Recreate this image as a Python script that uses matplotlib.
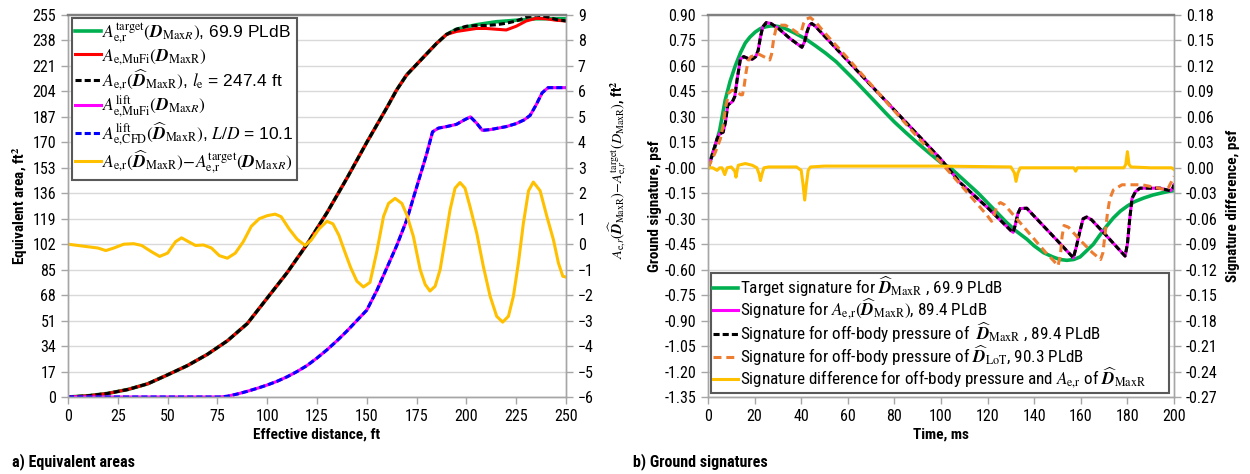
import numpy as np
import matplotlib
matplotlib.use("Agg")
import matplotlib.pyplot as plt
from matplotlib.ticker import FixedLocator, FormatStrFormatter

# ---------------- equivalent areas (left panel) ----------------
dist_area = [0, 10, 20, 30, 40, 50, 60, 70, 80, 90, 100, 110, 120, 130, 140, 150,
             160, 165, 170, 175, 180, 185, 190, 195, 200, 205, 210, 215, 220, 225,
             230, 235, 240, 245, 250]
area_target = [0, 0.8, 2.4, 5, 8.8, 14.8, 21, 28.5, 37.5, 49, 66, 83, 102, 123, 146, 170,
               193, 205, 215, 222, 229, 236, 242, 245.5, 247, 248.5, 249.5, 250.5, 251,
               251.5, 252, 252.5, 252.5, 252.5, 252.5]
area_mufi = [0, 0.8, 2.4, 5, 8.8, 14.8, 21, 28.5, 37.5, 49, 66, 83, 102, 123, 146, 170,
             193, 205, 215, 222, 229, 236, 242, 244, 245, 246, 246, 245.5, 245, 247.5,
             251, 252.8, 252.5, 251.5, 251]
area_recon = [0, 0.8, 2.4, 5, 8.8, 14.8, 21, 28.5, 37.5, 49, 66, 83, 102, 123, 146, 170,
              193, 205, 215, 222, 229, 236, 242, 245.5, 247.5, 248, 248, 248.5, 249.5, 251,
              253.5, 255, 254, 252, 251]

dist_lift = [0, 20, 40, 60, 76, 80, 85, 90, 95, 100, 105, 110, 115, 120, 125, 130, 135,
             140, 145, 150, 155, 160, 165, 170, 175, 180, 183, 186, 190, 195, 199, 202,
             205, 208, 212, 216, 220, 225, 229, 232, 235, 238, 241, 245, 250]
lift_mufi = [0, 0, 0, 0, 0, 0.5, 2, 3.8, 5.8, 8, 10.5, 13.5, 17, 21, 26, 31.5, 37.5, 44,
             51, 58, 71, 86, 101, 118, 140, 162, 177, 179.5, 180.5, 182, 185, 187, 183,
             178, 178.5, 179.5, 180.5, 182.5, 185, 188, 195, 203, 206.5, 206.5, 206.5]
lift_cfd = [0, 0, 0, 0, 0, 0.5, 2, 3.8, 5.8, 8, 10.5, 13.5, 17, 21, 26, 31.5, 37.5, 44,
            51, 58, 71, 86, 101, 118, 140, 162, 177, 179.5, 180.5, 182, 185, 187, 183,
            178, 178.5, 179.5, 180.5, 182.5, 185, 188, 195, 203, 206.5, 206.5, 206.5]

dist_diff = [0, 5, 10, 15, 19, 23, 28, 33, 37, 42, 46, 50, 54, 57, 60, 64, 68, 72, 76, 80,
             84, 88, 92, 96, 100, 104, 107, 111, 115, 119, 122, 126, 130, 133, 136, 138.5,
             141.8, 145, 148.3, 151.6, 155, 158.4, 160.9, 164.2, 167.6, 170.1, 173.4,
             176.8, 179.3, 181.7, 184.3, 186.8, 189.3, 191.8, 194.3, 196.8, 199.3, 201.8,
             205.2, 208.5, 211.9, 215.2, 218.2, 221.1, 223.6, 226.1, 228.6, 231.2, 233.6,
             237, 240.4, 243.7, 246.2, 248.4, 250]
area_diff = [0.0, -0.05, -0.1, -0.15, -0.25, -0.15, 0.0, 0.02, -0.05, -0.3, -0.48, -0.35,
             0.1, 0.25, 0.12, -0.05, -0.03, -0.15, -0.45, -0.55, -0.35, 0.1, 0.7, 1.0, 1.12,
             1.18, 1.08, 0.6, 0.2, -0.05, 0.15, 0.6, 0.9, 0.8, 0.35, -0.2, -0.9, -1.45,
             -1.68, -1.5, -0.3, 1.09, 1.6, 1.8, 1.6, 1.15, 0.3, -1.0, -1.58, -1.84, -1.65,
             -1.0, 0.17, 1.35, 2.2, 2.42, 2.2, 1.48, 0.43, -0.87, -2.04, -2.83, -3.06, -2.83,
             -2.04, -0.74, 0.82, 2.1, 2.44, 2.1, 1.09, 0.17, -0.74, -1.26, -1.29]

# ---------------- ground signatures (right panel) ----------------
t_target = [0, 3.1, 5, 7.4, 9.5, 11.7, 14, 16, 18, 20.3, 22.5, 24.6, 27, 28.9, 31, 33.2,
            37, 41.8, 46, 50.4, 55, 59, 63, 67.5, 72, 76.1, 80, 84.7, 90, 94.7, 100, 104,
            108, 112, 116, 122, 128, 132, 136.8, 140, 144, 148, 151, 154, 157, 159.7, 162,
            165.4, 168, 171, 174, 177, 180, 183, 187, 191, 195, 198, 200]
p_target = [0, 0.13, 0.22, 0.40, 0.51, 0.60, 0.68, 0.735, 0.77, 0.80, 0.82, 0.83, 0.836,
            0.835, 0.83, 0.82, 0.795, 0.76, 0.72, 0.676, 0.625, 0.57, 0.515, 0.45, 0.385,
            0.325, 0.27, 0.21, 0.145, 0.09, 0.03, 0.0, -0.05, -0.10, -0.15, -0.235, -0.32,
            -0.37, -0.42, -0.46, -0.50, -0.525, -0.54, -0.545, -0.54, -0.525, -0.495,
            -0.45, -0.40, -0.345, -0.295, -0.255, -0.225, -0.20, -0.178, -0.16, -0.147,
            -0.138, -0.135]

t_ae = [0, 1.7, 3.9, 5.0, 6.5, 7.5, 8.5, 10.5, 11.5, 12.5, 13.9, 15.3, 17, 19, 20.5, 21.5,
        22.5, 23.5, 25, 27, 30.3, 35.3, 40.3, 41.5, 42.5, 43.5, 44.5, 46, 50.4, 60, 70, 80,
        90, 100, 108, 120, 130, 131, 132, 133, 134, 136.8, 140, 150, 156.8, 158, 159.5, 161,
        162.5, 164.6, 170, 179, 180, 181, 182, 183.5, 185.4, 194, 198.3, 199.5, 200]
p_ae = [0, 0.07, 0.17, 0.20, 0.21, 0.27, 0.37, 0.39, 0.42, 0.52, 0.64, 0.655, 0.645, 0.64,
        0.655, 0.69, 0.77, 0.83, 0.855, 0.85, 0.82, 0.76, 0.71, 0.745, 0.80, 0.84, 0.85,
        0.835, 0.77, 0.63, 0.485, 0.34, 0.195, 0.05, -0.085, -0.235, -0.37, -0.38, -0.33,
        -0.27, -0.24, -0.238, -0.285, -0.43, -0.53, -0.47, -0.38, -0.30, -0.29, -0.306,
        -0.385, -0.52, -0.45, -0.30, -0.18, -0.14, -0.12, -0.12, -0.135, -0.12, -0.10]
p_offbody = list(p_ae)

t_lot = [0, 3.1, 5.3, 6.5, 7.4, 8.9, 10.3, 12.4, 14, 14.8, 15.5, 16.3, 17.2, 18.5, 21.7,
         24.6, 26.5, 27.3, 28.2, 29.2, 30.5, 33.2, 36.8, 38.9, 40, 41, 42, 43.9, 46.1, 50.4,
         60, 70, 80, 90, 100, 110, 116, 119.6, 121.7, 122.8, 124, 125.5, 127.3, 135, 140,
         145, 148.5, 150.2, 151.2, 152, 152.8, 154.7, 160, 165, 168.5, 169.5, 170.5, 171.5,
         172.5, 174, 177.7, 186.3, 193.4, 196.3, 197.5, 199, 200]
p_lot = [0, 0.09, 0.17, 0.25, 0.345, 0.44, 0.457, 0.45, 0.43, 0.43, 0.48, 0.56, 0.63, 0.655,
         0.67, 0.65, 0.635, 0.67, 0.76, 0.82, 0.84, 0.84, 0.81, 0.79, 0.80, 0.85, 0.875,
         0.885, 0.86, 0.79, 0.645, 0.49, 0.335, 0.18, 0.03, -0.125, -0.22, -0.277, -0.315,
         -0.28, -0.22, -0.205, -0.218, -0.34, -0.42, -0.50, -0.55, -0.578, -0.52, -0.40,
         -0.34, -0.35, -0.43, -0.50, -0.54, -0.50, -0.38, -0.26, -0.18, -0.13, -0.10, -0.10,
         -0.12, -0.13, -0.12, -0.08, -0.05]

t_diff = [0, 2, 3.9, 5, 6, 7.2, 8.2, 10, 11.5, 12, 12.6, 13, 16, 19, 21, 22, 22.5, 23.2, 24,
          26, 30, 38, 40, 40.8, 41.5, 42.2, 43, 44, 50, 100, 130, 131.5, 132.2, 133, 134,
          157, 157.8, 158.5, 178.5, 179.3, 180, 180.7, 181.5, 190, 199, 200]
sig_diff = [0, 0, -0.003, 0.0, 0.0, -0.008, 0.0, 0.001, -0.004, -0.011, -0.002, 0.003,
            0.005, 0.003, 0.0, -0.008, -0.015, -0.007, 0.0, 0.001, 0.001, 0.001, -0.003,
            -0.02, -0.038, -0.02, -0.003, 0.001, 0.002, 0.002, 0.001, -0.006, -0.016,
            -0.006, 0.0, 0.0, -0.004, 0.0, 0.0, 0.004, 0.019, 0.004, 0.001, 0.0, 0.0, -0.002]

# ---------------- styling ----------------
COND = ["Roboto Condensed", "DejaVu Sans"]
WIDE = ["Liberation Sans", "DejaVu Sans"]
plt.rcParams["font.family"] = COND
plt.rcParams["mathtext.fontset"] = "stix"

GREEN = "#00B050"
RED = "#FF0000"
MAGENTA = "#FF00FF"
BLUE = "#0000FF"
GOLD = "#FFC000"
ORANGE = "#ED7D31"
GRID = "#D9D9D9"
SPINE = "#A6A6A6"
TICK_FS = 11.5
LABEL_FS = 11
LW = 2.2

fig = plt.figure(figsize=(12.5, 4.74), dpi=100)
W, H = 1250, 474
axA = fig.add_axes([68 / W, 1 - 397 / H, 498 / W, 382 / H])
axB = fig.add_axes([708 / W, 1 - 397 / H, 466 / W, 382 / H])


def frame(ax):
    for side in ("left", "bottom", "right"):
        ax.spines[side].set_color(SPINE)
        ax.spines[side].set_linewidth(1.0)
    ax.spines["top"].set_color("#808080")
    ax.spines["top"].set_linewidth(1.6)
    ax.tick_params(axis="both", which="both", direction="out", length=5,
                   width=1.0, color=SPINE, labelsize=TICK_FS, labelcolor="black")


# ----- left panel -----
axA.plot(dist_area, area_target, color=GREEN, lw=LW + 0.4)
axA.plot(dist_area, area_mufi, color=RED, lw=LW)
axA.plot(dist_area, area_recon, color="black", lw=LW, dashes=(2, 1))
axA.plot(dist_lift, lift_mufi, color=MAGENTA, lw=LW)
axA.plot(dist_lift, lift_cfd, color=BLUE, lw=LW, dashes=(2, 1))
axA.set_xlim(0, 250)
axA.set_ylim(0, 255)
axA.xaxis.set_major_locator(FixedLocator(np.arange(0, 251, 25)))
axA.yaxis.set_major_locator(FixedLocator(np.arange(0, 256, 17)))
axA.yaxis.grid(True, color=GRID, lw=1.0)
axA.set_axisbelow(True)
frame(axA)
axA.set_xlabel("Effective distance, ft", fontsize=LABEL_FS, fontweight="bold", labelpad=3)
axA.set_ylabel("Equivalent area, ft$^\\mathbf{2}$", fontsize=LABEL_FS, fontweight="bold", labelpad=2)

axA2 = axA.twinx()
axA2.plot(dist_diff, area_diff, color=GOLD, lw=LW)
axA2.set_ylim(-6, 9)
axA2.yaxis.set_major_locator(FixedLocator(np.arange(-6, 10, 1)))
frame(axA2)
axA2.set_ylabel(r"$A_{\mathrm{e{,}}r}(\widehat{\mathbfit{D}}_{\mathrm{MaxR}})"
                r"\!-\!A_{\mathrm{e{,}}r}^{\mathrm{target}}(D_{\mathrm{MaxR}})$, ft$^\mathbf{2}$",
                fontsize=10.3, fontweight="bold")
axA2.yaxis.set_label_coords((606 - 68) / 498, 0.5 + 36 / 382)

labelsA = [
    r"$A_{\mathrm{e{,}r}}^{\mathrm{target}}({\mathbfit{D}}_{\mathrm{Max}R})$, 69.9 PLdB",
    r"$A_{\mathrm{e{,}MuFi}}({\mathbfit{D}}_{\mathrm{MaxR}})$",
    r"$A_{\mathrm{e{,}r}}({\widehat{\mathbfit{D}}}_{\mathrm{MaxR}})$, $l_{\mathrm{e}}$ = 247.4 ft",
    r"$A_{\mathrm{e{,}MuFi}}^{\mathrm{lift}}({\mathbfit{D}}_{\mathrm{Max}R})$",
    r"$A_{\mathrm{e{,}CFD}}^{\mathrm{lift}}({\widehat{\mathbfit{D}}}_{\mathrm{MaxR}})$, $L/D$ = 10.1",
    r"$A_{\mathrm{e{,}r}}({\widehat{\mathbfit{D}}}_{\mathrm{MaxR}})\!-\!A_{\mathrm{e{,}r}}^{\mathrm{target}}({\mathbfit{D}}_{\mathrm{Max}R})$",
]
handlesA = axA.get_lines() + axA2.get_lines()
legA = axA2.legend(handlesA, labelsA, loc="upper left", bbox_to_anchor=(0.008, 0.992),
                   borderaxespad=0, fancybox=False, framealpha=1, edgecolor="#595959",
                   handlelength=1.45, handletextpad=0.1, labelspacing=0.05,
                   borderpad=0.2, prop={"family": WIDE, "size": 12.5})
legA.get_frame().set_linewidth(1.5)

# ----- right panel -----
axB.plot(t_target, p_target, color=GREEN, lw=LW + 0.4)
axB.plot(t_ae, p_ae, color=MAGENTA, lw=LW)
axB.plot(t_ae, p_offbody, color="black", lw=LW, dashes=(2, 1))
axB.plot(t_lot, p_lot, color=ORANGE, lw=LW, dashes=(2.6, 1.6))
axB.set_xlim(0, 200)
axB.set_ylim(-1.35, 0.90)
axB.xaxis.set_major_locator(FixedLocator(np.arange(0, 201, 20)))
axB.yaxis.set_major_locator(FixedLocator(np.round(np.arange(-1.35, 0.91, 0.15), 2)))
axB.yaxis.set_major_formatter(FormatStrFormatter("%.2f"))
axB.yaxis.grid(True, color=GRID, lw=1.0)
axB.set_axisbelow(True)
frame(axB)
axB.set_xlabel("Time, ms", fontsize=LABEL_FS, fontweight="bold", labelpad=3)
axB.set_ylabel("Ground signature, psf", fontsize=LABEL_FS, fontweight="bold", labelpad=2)

axB2 = axB.twinx()
axB2.plot(t_diff, sig_diff, color=GOLD, lw=LW)
axB2.set_ylim(-0.27, 0.18)
axB2.yaxis.set_major_locator(FixedLocator(np.round(np.arange(-0.27, 0.181, 0.03), 2)))
axB2.yaxis.set_major_formatter(FormatStrFormatter("%.2f"))
frame(axB2)
axB2.set_ylabel("Signature difference, psf", fontsize=LABEL_FS, fontweight="bold", labelpad=6)

labelsB = [
    r"Target signature for ${\widehat{\mathbfit{D}}}_{\mathrm{MaxR}}$ , 69.9 PLdB",
    r"Signature for $A_{\mathrm{e{,}r}}({\widehat{\mathbfit{D}}}_{\mathrm{MaxR}})$, 89.4 PLdB",
    r"Signature for off-body pressure of  ${\widehat{\mathbfit{D}}}_{\mathrm{MaxR}}$ , 89.4 PLdB",
    r"Signature for off-body pressure of ${\widehat{\mathbfit{D}}}_{\mathrm{LoT}}$, 90.3 PLdB",
    r"Signature difference for off-body pressure and $\mathit{A}_{\mathrm{e{,}r}}$ of ${\widehat{\mathbfit{D}}}_{\mathrm{MaxR}}$",
]
handlesB = axB.get_lines() + axB2.get_lines()
legB = axB2.legend(handlesB, labelsB, loc="lower left", bbox_to_anchor=(0.006, 0.01, 0.983, 0.3),
                   mode="expand", borderaxespad=0, fancybox=False, framealpha=1,
                   edgecolor="#595959", handlelength=1.5, handletextpad=0.1,
                   labelspacing=-0.08, borderpad=0.1,
                   prop={"family": COND, "size": 12.3})
legB.get_frame().set_linewidth(1.5)

fig.text(12 / W, 1 - 462 / H, "a) Equivalent areas", fontsize=11.5, fontweight="bold", va="center")
fig.text(633 / W, 1 - 462 / H, "b) Ground signatures", fontsize=11.5, fontweight="bold", va="center")

fig.savefig("out.png", dpi=100, facecolor="white")
